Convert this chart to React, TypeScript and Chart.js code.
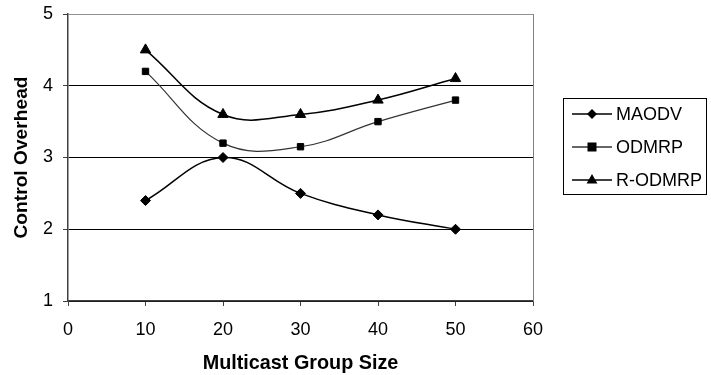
import React, { useEffect, useRef } from "react";
import { Chart, registerables } from "chart.js";

Chart.register(...registerables);

const groupSizes = [10, 20, 30, 40, 50];
const maodv = [2.4, 3.0, 2.5, 2.2, 2.0];
const odmrp = [4.2, 3.2, 3.15, 3.5, 3.8];
const rodmrp = [4.5, 3.6, 3.6, 3.8, 4.1];
const seriesNames = ["MAODV", "ODMRP", "R-ODMRP"];
const xTitle = "Multicast Group Size";
const yTitle = "Control Overhead";

const FONT = "'Liberation Sans', Arial, sans-serif";

function drawMarker(ctx: CanvasRenderingContext2D, kind: string, x: number, y: number) {
  ctx.save();
  ctx.fillStyle = "#000";
  ctx.beginPath();
  if (kind === "diamond") {
    const r = 5;
    ctx.moveTo(x, y - r);
    ctx.lineTo(x + r, y);
    ctx.lineTo(x, y + r);
    ctx.lineTo(x - r, y);
  } else if (kind === "square") {
    const r = 4.5;
    ctx.rect(x - r, y - r, 2 * r, 2 * r);
  } else {
    const r = 6;
    ctx.moveTo(x, y - r);
    ctx.lineTo(x + r * 0.9, y + r * 0.6);
    ctx.lineTo(x - r * 0.9, y + r * 0.6);
  }
  ctx.closePath();
  ctx.fill();
  ctx.restore();
}

const framePlugin = {
  id: "frameAndLegend",
  afterDraw(chart: any) {
    const ctx: CanvasRenderingContext2D = chart.ctx;
    const a = chart.chartArea;
    ctx.save();
    ctx.strokeStyle = "#808080";
    ctx.lineWidth = 1;
    ctx.beginPath();
    ctx.moveTo(Math.round(a.right) + 0.5, a.top);
    ctx.lineTo(Math.round(a.right) + 0.5, a.bottom);
    ctx.stroke();

    const lx = 563, ly = 98, lw = 143, lh = 96;
    ctx.strokeStyle = "#000";
    ctx.lineWidth = 1;
    ctx.strokeRect(lx + 0.5, ly + 0.5, lw, lh);
    const kinds = ["diamond", "square", "triangle"];
    const colors = ["#000", "#333", "#000"];
    const rows = [114, 147, 180];
    ctx.font = `18px ${FONT}`;
    ctx.textBaseline = "middle";
    for (let i = 0; i < 3; i++) {
      const y = rows[i];
      ctx.strokeStyle = colors[i];
      ctx.lineWidth = 1.5;
      ctx.beginPath();
      ctx.moveTo(572, y);
      ctx.lineTo(612, y);
      ctx.stroke();
      drawMarker(ctx, kinds[i], 592, y);
      ctx.fillStyle = "#000";
      ctx.fillText(seriesNames[i], 616, y + 1);
    }
    ctx.restore();
  },
};

export default function App() {
  const canvasRef = useRef<HTMLCanvasElement | null>(null);

  useEffect(() => {
    if (!canvasRef.current) return;
    const mk = (vals: number[]) => groupSizes.map((x, i) => ({ x, y: vals[i] }));
    const chart = new Chart(canvasRef.current, {
      type: "line",
      data: {
        datasets: [
          {
            label: seriesNames[0],
            data: mk(maodv),
            borderColor: "#000",
            backgroundColor: "#000",
            borderWidth: 1.5,
            pointStyle: "rectRot",
            pointRadius: 5,
            pointBorderWidth: 1,
            tension: 0.4,
          },
          {
            label: seriesNames[1],
            data: mk(odmrp),
            borderColor: "#333",
            backgroundColor: "#000",
            pointBorderColor: "#000",
            borderWidth: 1.2,
            pointStyle: "rect",
            pointRadius: 4.5,
            pointBorderWidth: 1,
            tension: 0.4,
          },
          {
            label: seriesNames[2],
            data: mk(rodmrp),
            borderColor: "#000",
            backgroundColor: "#000",
            borderWidth: 1.5,
            pointStyle: "triangle",
            pointRadius: 6,
            pointBorderWidth: 1,
            tension: 0.4,
          },
        ],
      },
      options: {
        animation: false,
        responsive: true,
        maintainAspectRatio: false,
        layout: { padding: { top: 14, right: 178, left: 0, bottom: 0 } },
        plugins: { legend: { display: false }, tooltip: { enabled: false } },
        scales: {
          x: {
            type: "linear",
            min: 0,
            max: 60,
            ticks: { stepSize: 10, color: "#000", font: { family: FONT, size: 18 }, padding: 13 },
            grid: { drawOnChartArea: false, drawTicks: true, tickLength: 5, color: "#404040" },
            border: { color: "#404040", width: 1.5 },
            title: {
              display: true,
              text: xTitle,
              color: "#000",
              font: { family: FONT, size: 19.8, weight: "bold" },
              padding: { top: 0, bottom: 0 },
            },
            afterFit: (s: any) => { s.height = 74; s.paddingLeft = 0; s.paddingRight = 0; },
          },
          y: {
            min: 1,
            max: 5,
            ticks: { stepSize: 1, color: "#000", font: { family: FONT, size: 18 }, padding: 10 },
            grid: {
              color: (c: any) => (c.tick && c.tick.value === 5 ? "#909090" : "#000"),
              tickLength: 5,
              tickColor: "#404040",
            },
            border: { color: "#404040", width: 1.5 },
            title: {
              display: true,
              text: yTitle,
              color: "#000",
              font: { family: FONT, size: 19.2, weight: "bold" },
              padding: { top: 10, bottom: 0 },
            },
            afterFit: (s: any) => { s.width = 68; s.paddingTop = 0; s.paddingBottom = 0; },
          },
        },
      },
      plugins: [framePlugin],
    });
    return () => chart.destroy();
  }, []);

  return (
    <div style={{ position: "absolute", left: 0, top: 0, width: 711, height: 375, background: "#fff" }}>
      <canvas ref={canvasRef} />
    </div>
  );
}
